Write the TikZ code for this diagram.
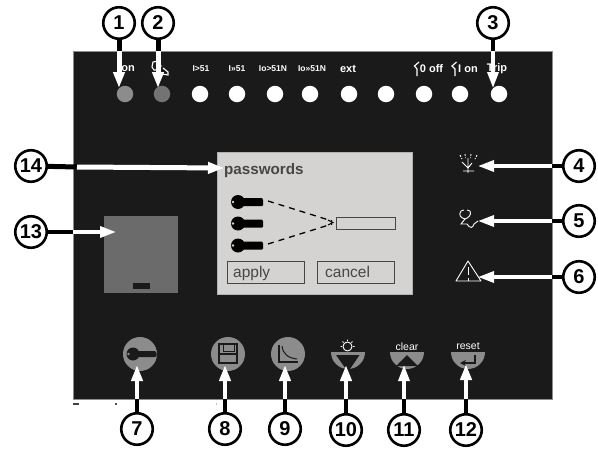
\documentclass[tikz,border=0pt]{standalone}
\usepackage{fontspec}
\setmainfont{Liberation Sans}
\usetikzlibrary{arrows.meta}
\definecolor{panelblack}{RGB}{26,26,26}
\definecolor{btngray}{RGB}{140,140,140}
\definecolor{dlggray}{RGB}{212,211,210}
\definecolor{dlgtext}{RGB}{70,70,70}
\newcommand{\pxfont}[1]{\fontsize{#1}{#1}\selectfont}

\begin{document}
\begin{tikzpicture}[
  x=1pt, y=-1pt,
  callout/.style={circle, draw=black, fill=white, line width=2.6pt, minimum size=31.5pt,
                  inner sep=0pt, font=\pxfont{20}\bfseries},
  stub/.style={black, line width=4pt},
  lead/.style={white, line width=3.3pt, -{Triangle[length=16pt,width=11pt]}},
  lamp/.style={circle, fill=white, minimum size=16.5pt, inner sep=0pt},
  ledtxt/.style={text=white, inner sep=0pt, font=\pxfont{8.5}\bfseries},
  bigtxt/.style={text=white, inner sep=0pt, font=\pxfont{11}\bfseries},
  btntxt/.style={text=white, inner sep=0pt, font=\pxfont{10.5}},
  dlgbox/.style={draw=dlgtext, line width=1pt, minimum height=22pt, minimum width=77pt,
                 inner sep=0pt},
  dlgtxt/.style={text=dlgtext, inner sep=0pt, font=\pxfont{15.5}},
  btn/.style={circle, fill=btngray, minimum size=34pt, inner sep=0pt},
  icon/.style={white, line width=0.9pt},
  btnmark/.style={panelblack, line width=1pt},
  keyicon/.pic={
    \fill[black] (0,0) circle (7);
    \fill[black] (5,-4) -- (24,-4) -- (25,-2) -- (25,3) -- (24,4) -- (5,4) -- cycle;
    \fill[dlggray] (-5,0) circle (1.4);
  }
]
  \useasboundingbox (0,0) rectangle (598,450);
  \fill[white] (0,0) rectangle (598,450);
  %% Front panel
  \node[draw=black!45, line width=0.6pt, fill=panelblack, minimum width=479pt, minimum height=348pt,
        inner sep=0pt] (panel) at (312.5,225) {};
  \fill[black!75] (73,403.4) rectangle (79,405);
  \fill[black!70] (115,403) rectangle (117,405);
  \fill[black!25] (215.5,403) rectangle (217,405);

  %% Lamps row
  \node[lamp, fill=btngray] (led1) at (125,94) {};
  \node[lamp, fill=black!55] (led2) at (162,94) {};
  \node[lamp] (led3) at (200,94) {};
  \node[lamp] (led4) at (237,94) {};
  \node[lamp] (led5) at (275,94) {};
  \node[lamp] (led6) at (310,94) {};
  \node[lamp] (led7) at (349,94) {};
  \node[lamp] (led8) at (386,94) {};
  \node[lamp] (led9) at (424,94) {};
  \node[lamp] (led10) at (460,94) {};
  \node[lamp] (led11) at (499,94) {};

  %% Lamp labels
  \node[bigtxt] (txton) at (128,69) {on};
  \node[ledtxt] (txtf1) at (201,69) {I>51};
  \node[ledtxt] (txtf2) at (237,69) {I>>51};
  \node[ledtxt] (txtf3) at (273,69) {Io>51N};
  \node[ledtxt] (txtf4) at (312,68.5) {Io>>51N};
  \node[bigtxt] (txtext) at (348,69) {ext};
  \node[bigtxt] (txtoff) at (431.5,69) {0 off};
  \node[bigtxt] (txtclose) at (468,69) {I on};
  \node[bigtxt] (txttrip) at (497,69) {Trip};
  %% Switch marks and hand
  \draw[icon, line width=1.2pt] (419,62) -- (414.5,66) -- (417,69) -- (417,76);
  \draw[icon, line width=1.2pt] (456.5,62) -- (452,66) -- (455,69) -- (455,76);
  \draw[icon, line width=1.1pt] (152,67) -- (153,62) -- (159,61) -- (161,66) -- (158,70) -- (154,70) -- cycle;
  \draw[icon, line width=1.1pt] (163,68) -- (168,72) -- (168,75) -- (162,74);

  %% Password dialog
  \node[fill=dlggray, draw=black!30, line width=0.5pt, minimum width=195pt, minimum height=142pt, inner sep=0pt]
    (dialog) at (314.5,223) {};
  \node[anchor=west, inner sep=0pt, text=dlgtext, font=\pxfont{15.2}\bfseries] (pwdtitle) at (224,171) {passwords};
  \pic at (238,202) {keyicon};
  \pic at (238,223.5) {keyicon};
  \pic at (238,245.5) {keyicon};
  \node[draw=dlgtext, line width=1pt, fill=dlggray, minimum width=59pt, minimum height=12pt, inner sep=0pt]
    (pwdfield) at (365.5,223) {};
  \draw[black, line width=1.3pt, dash pattern=on 6pt off 5pt] (268,201) -- (332,221);
  \draw[black, line width=1.3pt, dash pattern=on 6pt off 5pt] (268,244) -- (332,224);
  \draw[black, line width=1pt] (328,220) -- (333,222.5) -- (328,225);
  \node[dlgbox] (btnapply) at (265.5,272) {};
  \node[dlgbox] (btncancel) at (355.5,272) {};
  \node[dlgtxt, anchor=base west] (txtapply) at (233,277) {apply};
  \node[dlgtxt, anchor=base west] (txtcancel) at (325,277) {cancel};

  %% Display window
  \node[fill=black!58, minimum width=74pt, minimum height=77pt, inner sep=0pt] (display) at (141,254.5) {};
  \node[fill=panelblack, minimum width=17pt, minimum height=6pt, inner sep=0pt] (slot) at (141.5,286) {};

  %% Right hand icons
  \coordinate (ant) at (478,166);
  \coordinate (steth) at (478,221);
  \coordinate (warn) at (478,277);
  \draw[icon] (468,158) -- (468,173) (463,171) -- (474,171) (462,162) -- (468,168) (472,163) -- (468,168);
  \draw[icon, dash pattern=on 2pt off 1.5pt] (460,155) -- (462,159) (465,154) -- (465.5,158) (471,154) -- (470.5,158) (477,155) -- (475,159);
  \draw[icon] (461,211) .. controls (458,215) and (461,218) .. (465,219) -- (461,224) -- (467,224) .. controls (470,229) and (473,228) .. (474,224) -- (478,221);
  \draw[icon] (461,211) -- (464,210) (470,211) -- (467,210) (470,211) .. controls (472,215) and (468,218) .. (465,219);
  \draw[white, line width=0.9pt, line join=round] (468,261) -- (456,281) -- (481,281) -- cycle;
  \draw[white, line width=0.9pt] (468,267) -- (468,275) (468,278) -- (468,281);

  %% Bottom buttons
  \node[btn] (btnkey) at (140,354) {};
  \node[btn] (btnsave) at (228,354) {};
  \node[btn] (btncurve) at (288,354) {};
  \fill[btngray] (331,352) arc[start angle=180, end angle=0, radius=17] -- cycle;
  \fill[btngray] (390,352) arc[start angle=180, end angle=0, radius=17] -- cycle;
  \fill[btngray] (451,352) arc[start angle=180, end angle=0, radius=17] -- cycle;
  \fill[panelblack] (133,354) circle (6.5);
  \fill[panelblack] (135,351) -- (155,351) -- (156.5,353) -- (156.5,356) -- (155,357) -- (135,357) -- cycle;
  \fill[btngray] (128.5,354) circle (1.3);
  \draw[btnmark, line width=1.6pt] (219,344) rectangle (237,363);
  \draw[btnmark] (223,351) -- (223,345) (223,351) -- (234,351) -- (234,345);
  \fill[panelblack] (220,352.5) rectangle (236,354.5);
  \draw[btnmark, line width=1.2pt] (279,345) -- (279,362) -- (298,362);
  \draw[btnmark] (282,346) .. controls (283,354) and (288,358) .. (297,359);
  \fill[panelblack] (336,355) -- (359.5,355) -- (348,372) -- cycle;
  \fill[panelblack] (407,355) -- (396,366) -- (418,366) -- cycle;
  \draw[btnmark, line width=1.4pt, -{Stealth[length=6pt,width=6pt]}] (475,355) -- (475,363) -- (460,363);
  \draw[white, line width=0.9pt] (347.5,346.5) circle (4.5);
  \draw[white, line width=0.9pt] (342,346.5) -- (340.5,346.5) (353,346.5) -- (354.5,346.5) (347.5,341) -- (347.5,339.5)
    (343.5,342.5) -- (342.5,341.5) (351.5,342.5) -- (352.5,341.5);
  \node[btntxt] (txtclear) at (407,347) {clear};
  \node[btntxt] (txtreset) at (468,346) {reset};

  %% Callout circles
  \node[callout] (c1) at (119,23) {1};
  \node[callout] (c2) at (158,23) {2};
  \node[callout] (c3) at (493,23) {3};
  \node[callout] (c4) at (579,166) {4};
  \node[callout] (c5) at (579,221) {5};
  \node[callout] (c6) at (579,277) {6};
  \node[callout] (c7) at (137,429) {7};
  \node[callout] (c8) at (225,429) {8};
  \node[callout] (c9) at (285,429) {9};
  \node[callout] (c10) at (346,430) {10};
  \node[callout] (c11) at (404,430) {11};
  \node[callout] (c12) at (466,430) {12};
  \node[callout] (c13) at (31,232) {13};
  \node[callout] (c14) at (31,166) {14};

  %% Points where each lead enters the panel
  \coordinate (e1) at (c1 |- panel.north);
  \coordinate (e2) at (c2 |- panel.north);
  \coordinate (e3) at (c3 |- panel.north);
  \coordinate (e4) at (c4 -| panel.east);
  \coordinate (e5) at (c5 -| panel.east);
  \coordinate (e6) at (c6 -| panel.east);
  \coordinate (e7) at (c7 |- panel.south);
  \coordinate (e8) at (c8 |- panel.south);
  \coordinate (e9) at (c9 |- panel.south);
  \coordinate (e10) at (c10 |- panel.south);
  \coordinate (e11) at (c11 |- panel.south);
  \coordinate (e12) at (c12 |- panel.south);
  \coordinate (e13) at (c13 -| panel.west);
  \coordinate (e14) at (77,167);
  %% Arrow tips on the buttons
  \coordinate (t1) at (119,88);
  \coordinate (t2) at (158,88);
  \coordinate (t3) at (493,88);
  \coordinate (t7) at (137,365);
  \coordinate (t8) at (225,365);
  \coordinate (t9) at (285,365);
  \coordinate (t10) at (346,365);
  \coordinate (t11) at (404,365);
  \coordinate (t12) at (466,364);
  \coordinate (t13) at (116,232);
  \coordinate (t14) at (224,168);

  %% Leads, black outside the panel and white on it
  \draw[stub, line width=5pt] (c1) -- (e1);
  \draw[stub, line width=5pt] (c2) -- (e2);
  \draw[stub, line width=3.5pt] (c3) -- (e3);
  \draw[stub] (c4) -- (e4);
  \draw[stub] (c5) -- (e5);
  \draw[stub] (c6) -- (e6);
  \draw[stub] (c7) -- (e7);
  \draw[stub, line width=4.5pt] (c8) -- (e8);
  \draw[stub, line width=4.5pt] (c9) -- (e9);
  \draw[stub, line width=4.5pt] (c10) -- (e10);
  \draw[stub, line width=3.5pt] (c11) -- (e11);
  \draw[stub] (c12) -- (e12);
  \draw[stub] (c13) -- (e13);
  \draw[stub, line width=5pt] (c14) -- (e14);
  \draw[lead, line width=5pt] (e1) -- (t1);
  \draw[lead, line width=5pt] (e2) -- (t2);
  \draw[lead] (e3) -- (t3);
  \draw[lead] (e4) -- (ant);
  \draw[lead] (e5) -- (steth);
  \draw[lead] (e6) -- (warn);
  \draw[lead, line width=4pt] (e7) -- (t7);
  \draw[lead, line width=4pt] (e8) -- (t8);
  \draw[lead, line width=4pt] (e9) -- (t9);
  \draw[lead, line width=4.5pt] (e10) -- (t10);
  \draw[lead] (e11) -- (t11);
  \draw[lead, line width=4pt] (e12) -- (t12);
  \draw[lead] (e13) -- (t13);
  \draw[lead, line width=5pt] (e14) -- (t14);
\end{tikzpicture}
\end{document}
